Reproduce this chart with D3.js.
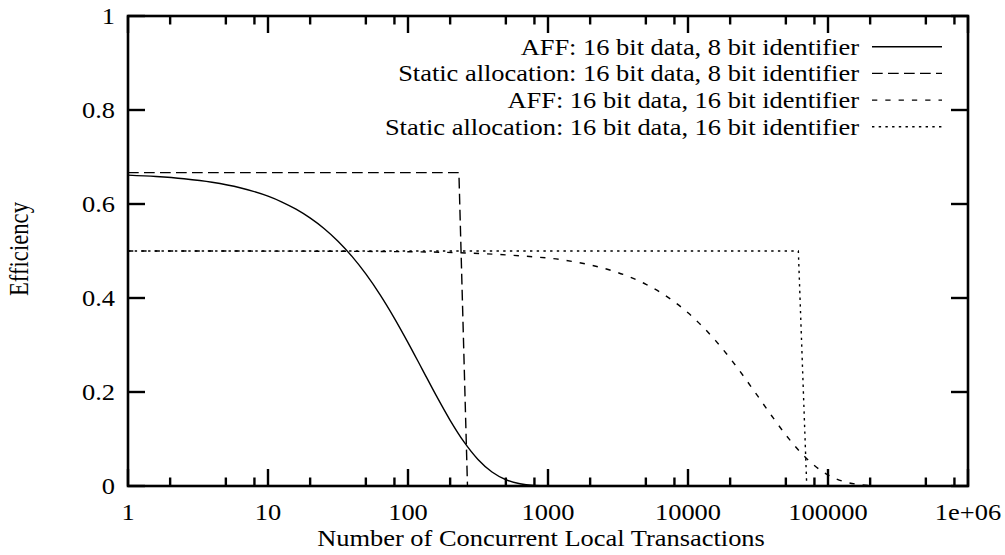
<!DOCTYPE html>
<html>
<head>
<meta charset="utf-8">
<script src="https://cdn.jsdelivr.net/npm/d3@7"></script>
<style>
  body { margin: 0; background: #fff; }
  text { font-family: "Liberation Serif", "Times New Roman", serif; font-size: 22.7px; fill: #000; }
</style>
</head>
<body>
<script>
// x values are "number of concurrent local transactions", y values efficiency
var aff8X = [1, 1.585, 2.512, 3.981, 6.31, 10, 12.59, 15.85, 19.95, 25.12, 31.62, 39.81, 50.12, 63.1, 79.43,
             100, 125.9, 158.5, 199.5, 251.2, 316.2, 398.1, 501.2, 631, 794.3, 1000, 1585, 1e6];
var aff8Y = [0.6615, 0.6585, 0.6537, 0.6463, 0.6346, 0.6166, 0.6042, 0.589, 0.5704, 0.5479, 0.5208, 0.4885, 0.4507, 0.4072, 0.3584,
             0.3052, 0.2493, 0.1932, 0.1403, 0.0937, 0.0564, 0.0297, 0.0133, 0.0048, 0.0013, 0.0003, 0, 0];

var static8X = [1, 231, 266, 1e6];
var static8Y = [0.6667, 0.6667, 0, 0];

var aff16X = [1, 10, 100, 1000, 1585, 1995, 2512, 3162, 3981, 5012, 6310, 7943, 10000, 12589, 15849, 19953,
              25119, 31623, 39811, 50119, 63096, 79433, 100000, 125893, 158489, 199526, 251189, 398107, 1e6];
var aff16Y = [0.5, 0.4998, 0.4985, 0.485, 0.4764, 0.4705, 0.4631, 0.454, 0.4428, 0.4291, 0.4124, 0.3924, 0.3685, 0.3405, 0.3083, 0.272,
              0.2323, 0.1905, 0.1484, 0.1083, 0.0729, 0.0443, 0.0236, 0.0107, 0.004, 0.0011, 0.0002, 0, 0];

var static16X = [1, 61400, 70500, 1e6];
var static16Y = [0.5, 0.5, 0, 0];

var seriesNames = ["AFF: 16 bit data, 8 bit identifier",
                   "Static allocation: 16 bit data, 8 bit identifier",
                   "AFF: 16 bit data, 16 bit identifier",
                   "Static allocation: 16 bit data, 16 bit identifier"];

var xMajor = [1, 10, 100, 1000, 10000, 100000, 1e6];
var xMajorLabels = ["1", "10", "100", "1000", "10000", "100000", "1e+06"];
var xMinorSteps = [2, 5, 8];
var yMajor = [0, 0.2, 0.4, 0.6, 0.8, 1];
var yMajorLabels = ["0", "0.2", "0.4", "0.6", "0.8", "1"];

var W = 1005, H = 555;
var margin = {top: 16, right: 37, bottom: 69, left: 128};
var sx = 1.165; // the picture's text is a bit wider than tall

var svg = d3.select("body").append("svg")
    .attr("width", W)
    .attr("height", H);

var x = d3.scaleLog().domain([1, 1e6]).range([margin.left, W - margin.right]);
var y = d3.scaleLinear().domain([0, 1]).range([H - margin.bottom, margin.top]);

var x0 = x.range()[0], x1 = x.range()[1], y0 = y.range()[0], y1 = y.range()[1];

function label(g, px, py, str, anchor) {
    return g.append("text")
        .attr("transform", "translate(" + px + "," + py + ") scale(" + sx + ",1)")
        .attr("text-anchor", anchor)
        .text(str);
}

svg.append("clipPath").attr("id", "plotclip")
  .append("rect")
    .attr("x", x0).attr("y", y1)
    .attr("width", x1 - x0).attr("height", y0 - y1);

// ticks, inward on all four sides
var xMinor = [];
xMajor.slice(0, -1).forEach(function(d){
    xMinorSteps.forEach(function(m){ xMinor.push(d * m); });
});

var ticks = svg.append("g").attr("stroke", "#000").attr("stroke-width", 2.4);
function xTicks(vals, len) {
    vals.forEach(function(d){
        ticks.append("line").attr("x1", x(d)).attr("x2", x(d)).attr("y1", y0).attr("y2", y0 - len);
        ticks.append("line").attr("x1", x(d)).attr("x2", x(d)).attr("y1", y1).attr("y2", y1 + len);
    });
}
xTicks(xMajor, 17);
xTicks(xMinor, 8.5);
yMajor.forEach(function(d){
    ticks.append("line").attr("x1", x0).attr("x2", x0 + 17).attr("y1", y(d)).attr("y2", y(d));
    ticks.append("line").attr("x1", x1).attr("x2", x1 - 17).attr("y1", y(d)).attr("y2", y(d));
});

// tick labels
var labels = svg.append("g");
xMajor.forEach(function(d, i){
    label(labels, x(d), 520, xMajorLabels[i], "middle");
});
yMajor.forEach(function(d, i){
    label(labels, 115, y(d) + 8, yMajorLabels[i], "end");
});

// axis titles
label(svg, 541, 546, "Number of Concurrent Local Transactions", "middle");
svg.append("text")
    .attr("transform", "translate(28," + ((y0 + y1) / 2 - 2) + ") scale(" + sx + ",1) rotate(-90)")
    .attr("text-anchor", "middle")
    .text("Efficiency");

// data lines
var series = [
    {xs: aff8X, ys: aff8Y, dash: null, curve: d3.curveMonotoneX},
    {xs: static8X, ys: static8Y, dash: "10.7,5.3", curve: d3.curveLinear},
    {xs: aff16X, ys: aff16Y, dash: "5.3,8", curve: d3.curveMonotoneX},
    {xs: static16X, ys: static16Y, dash: "2.4,4.3", curve: d3.curveLinear}
];

var plot = svg.append("g").attr("clip-path", "url(#plotclip)");
series.forEach(function(s){
    var pts = s.xs.map(function(d, i){ return [d, s.ys[i]]; });
    var line = d3.line()
        .x(function(d){ return x(d[0]); })
        .y(function(d){ return y(d[1]); })
        .curve(s.curve);
    plot.append("path")
        .datum(pts)
        .attr("d", line)
        .attr("fill", "none")
        .attr("stroke", "#000")
        .attr("stroke-width", 1.4)
        .attr("stroke-dasharray", s.dash);
});

// legend (top right, inside)
var legend = svg.append("g");
seriesNames.forEach(function(name, i){
    var ly = 46.7 + i * 26.7;
    label(legend, 859, ly + 8, name, "end");
    legend.append("line")
        .attr("x1", 872).attr("x2", 942)
        .attr("y1", ly).attr("y2", ly)
        .attr("stroke", "#000")
        .attr("stroke-width", 1.4)
        .attr("stroke-dasharray", series[i].dash);
});

// border
svg.append("rect")
    .attr("x", x0).attr("y", y1)
    .attr("width", x1 - x0).attr("height", y0 - y1)
    .attr("fill", "none")
    .attr("stroke", "#000")
    .attr("stroke-width", 2.6);
</script>
</body>
</html>
